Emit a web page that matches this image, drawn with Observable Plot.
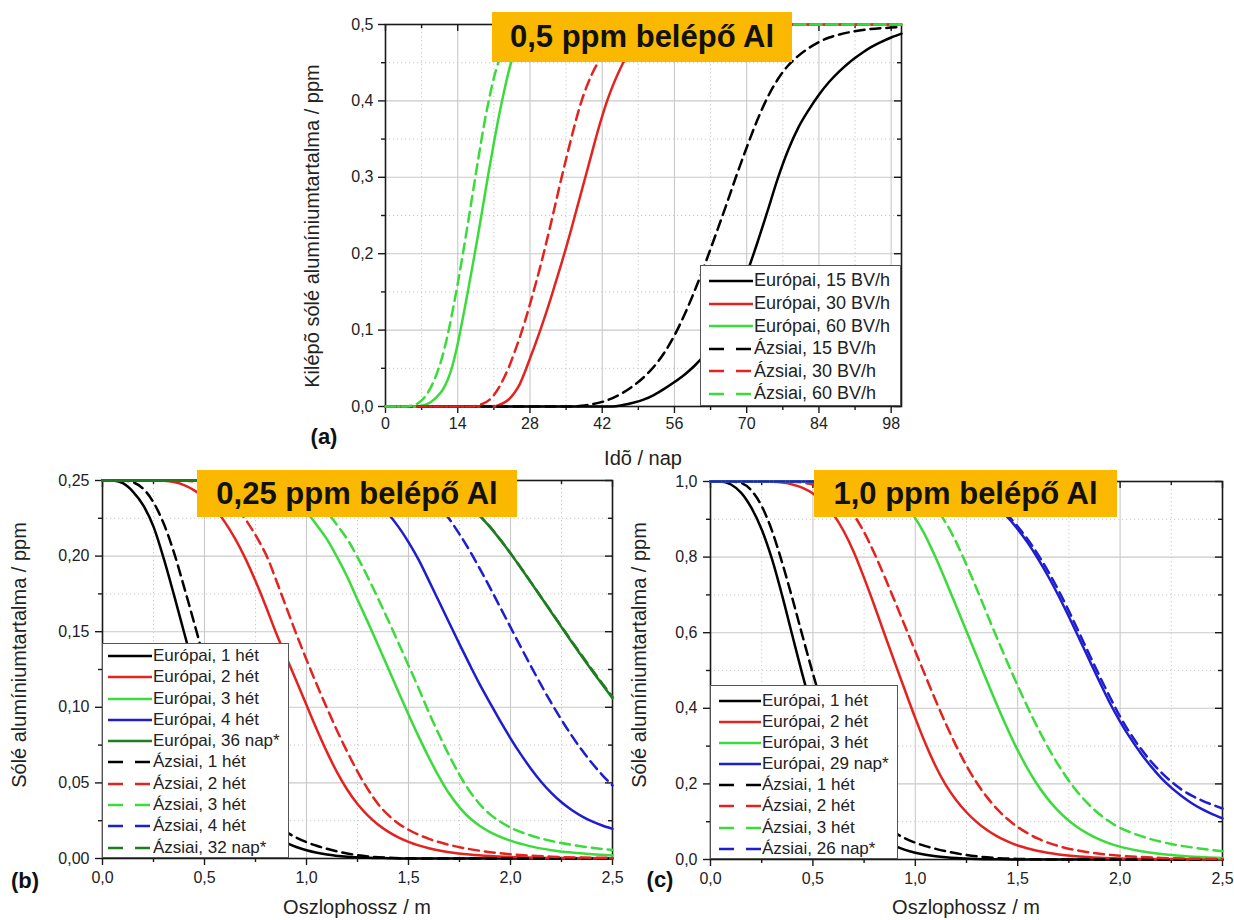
<!DOCTYPE html>
<html><head><meta charset="utf-8">
<script src="https://cdn.jsdelivr.net/npm/d3@7"></script>
<script src="https://cdn.jsdelivr.net/npm/@observablehq/plot@0.6"></script>
<style>
body{margin:0;background:#fff;}
#root{position:relative;width:1234px;height:920px;overflow:hidden;font-family:"Liberation Sans",Arial,sans-serif;background:#fff;}
.panel{position:absolute;}
.panel svg{overflow:visible;}
.title{position:absolute;background:#FAB800;font-weight:bold;display:flex;align-items:center;justify-content:center;color:#111;white-space:nowrap;}
.legend{position:absolute;background:#fff;border:1px solid #555;box-sizing:border-box;}
.row{position:absolute;left:0;display:flex;align-items:center;white-space:nowrap;color:#222;}
.lab{position:absolute;white-space:nowrap;color:#222;transform:translate(-50%,-50%);}
.ylab{position:absolute;white-space:nowrap;color:#222;transform:translate(-50%,-50%) rotate(-90deg);}
</style>
</head><body><div id="root"></div>
<script>
// ---------- Panel (a): Idő / nap vs kilépő sólé Al (ppm) ----------
const A_LABELS = ["Európai, 15 BV/h","Európai, 30 BV/h","Európai, 60 BV/h","Ázsiai, 15 BV/h","Ázsiai, 30 BV/h","Ázsiai, 60 BV/h"];
const A_EUR_15 = [[0,0],[44,0],[46,0.002],[48,0.005],[50,0.009],[52,0.015],[54,0.023],[56,0.032],[58,0.042],[60,0.054],[62,0.069],[64,0.088],[66,0.112],[68,0.14],[70,0.174],[72,0.213],[74,0.255],[76,0.298],[78,0.335],[80,0.365],[82,0.388],[84,0.408],[86,0.425],[88,0.439],[90,0.451],[92,0.461],[94,0.47],[96,0.477],[98,0.483],[100,0.488]];
const A_EUR_30 = [[0,0],[21,0],[22,0.002],[23,0.005],[24,0.01],[25,0.018],[26,0.029],[27,0.045],[28,0.063],[29,0.081],[30,0.1],[31,0.12],[32,0.141],[33,0.163],[34,0.185],[35,0.208],[36,0.232],[37,0.257],[38,0.282],[39,0.307],[40,0.332],[41,0.357],[42,0.38],[43,0.401],[44,0.419],[45,0.435],[46,0.449],[47,0.461],[48,0.471],[49,0.479],[50,0.486],[51,0.491],[52,0.495],[53,0.498],[54,0.5],[100,0.5]];
const A_EUR_60 = [[0,0],[6,0],[7,0.001],[8,0.003],[9,0.007],[10,0.013],[11,0.021],[12,0.034],[13,0.054],[14,0.082],[15,0.116],[16,0.152],[17,0.189],[18,0.227],[19,0.267],[20,0.307],[21,0.345],[22,0.381],[23,0.413],[24,0.442],[25,0.465],[26,0.482],[27,0.492],[28,0.497],[29,0.5],[100,0.5]];
const A_ASIA_15 = [[0,0],[36,0],[38,0.001],[40,0.003],[42,0.006],[44,0.011],[46,0.018],[48,0.027],[50,0.038],[52,0.052],[54,0.07],[56,0.093],[58,0.121],[60,0.153],[62,0.188],[64,0.225],[66,0.263],[68,0.302],[70,0.339],[72,0.374],[74,0.404],[76,0.428],[78,0.446],[80,0.459],[82,0.469],[84,0.477],[86,0.483],[88,0.487],[90,0.49],[94,0.494],[98,0.496],[100,0.497]];
const A_ASIA_30 = [[0,0],[17,0],[18,0.002],[19,0.004],[20,0.008],[21,0.015],[22,0.025],[23,0.038],[24,0.053],[25,0.071],[26,0.09],[27,0.111],[28,0.134],[29,0.158],[30,0.183],[31,0.21],[32,0.238],[33,0.267],[34,0.296],[35,0.324],[36,0.351],[37,0.377],[38,0.4],[39,0.419],[40,0.435],[41,0.448],[42,0.459],[43,0.469],[44,0.477],[45,0.484],[46,0.49],[47,0.495],[48,0.498],[49,0.5],[100,0.5]];
const A_ASIA_60 = [[0,0],[4,0],[5,0.001],[6,0.003],[7,0.008],[8,0.016],[9,0.028],[10,0.044],[11,0.065],[12,0.092],[13,0.125],[14,0.161],[15,0.2],[16,0.241],[17,0.283],[18,0.325],[19,0.365],[20,0.4],[21,0.43],[22,0.453],[23,0.471],[24,0.484],[25,0.493],[26,0.498],[27,0.5],[100,0.5]];
const A_XTICKS = [0,14,28,42,56,70,84,98];
const A_XTICK_LABELS = ["0","14","28","42","56","70","84","98"];
const A_XMINOR = [7,21,35,49,63,77,91];
const A_YTICKS = [0,0.1,0.2,0.3,0.4,0.5];
const A_YTICK_LABELS = ["0,0","0,1","0,2","0,3","0,4","0,5"];
const A_YMINOR = [0.05,0.15,0.25,0.35,0.45];

// ---------- Panel (b): 0,25 ppm ----------
const B_LABELS = ["Európai, 1 hét","Európai, 2 hét","Európai, 3 hét","Európai, 4 hét","Európai, 36 nap*","Ázsiai, 1 hét","Ázsiai, 2 hét","Ázsiai, 3 hét","Ázsiai, 4 hét","Ázsiai, 32 nap*"];
const B_EUR_1 = [[0,0.25],[0.05,0.25],[0.1,0.2482],[0.15,0.2425],[0.2,0.2335],[0.25,0.2195],[0.3,0.1985],[0.35,0.1745],[0.4,0.1495],[0.45,0.1245],[0.5,0.101],[0.55,0.08],[0.6,0.0622],[0.65,0.0475],[0.7,0.0358],[0.75,0.0268],[0.8,0.0198],[0.85,0.0145],[0.9,0.0105],[0.95,0.0076],[1.0,0.0055],[1.1,0.0027],[1.2,0.0012],[1.3,0.0005],[1.4,0.0002],[1.5,0],[2.5,0]];
const B_EUR_2 = [[0,0.25],[0.25,0.25],[0.3,0.2498],[0.35,0.249],[0.4,0.247],[0.45,0.2435],[0.5,0.2385],[0.55,0.2315],[0.6,0.2225],[0.65,0.2115],[0.7,0.1985],[0.75,0.1835],[0.8,0.167],[0.85,0.1495],[0.9,0.1335],[0.95,0.1175],[1.0,0.1015],[1.05,0.0855],[1.1,0.0705],[1.15,0.057],[1.2,0.0455],[1.25,0.036],[1.3,0.0285],[1.35,0.0225],[1.4,0.0178],[1.45,0.014],[1.5,0.011],[1.6,0.0068],[1.7,0.0042],[1.8,0.0026],[1.9,0.0016],[2.0,0.001],[2.2,0.0004],[2.5,0.0001]];
const B_EUR_3 = [[0,0.25],[0.6,0.25],[0.7,0.2496],[0.75,0.249],[0.8,0.2478],[0.85,0.2455],[0.9,0.2418],[0.95,0.2365],[1.0,0.2293],[1.05,0.2205],[1.1,0.2112],[1.15,0.1993],[1.2,0.1862],[1.25,0.1712],[1.3,0.1565],[1.35,0.1413],[1.4,0.126],[1.45,0.1105],[1.5,0.0953],[1.55,0.0806],[1.6,0.0667],[1.65,0.054],[1.7,0.0428],[1.75,0.0338],[1.8,0.0268],[1.85,0.0215],[1.9,0.0175],[2.0,0.0118],[2.1,0.008],[2.2,0.0055],[2.3,0.0039],[2.4,0.0028],[2.5,0.002]];
const B_EUR_4 = [[0,0.25],[1.0,0.25],[1.05,0.2497],[1.1,0.2492],[1.15,0.2482],[1.2,0.2465],[1.25,0.2438],[1.3,0.24],[1.35,0.2348],[1.4,0.228],[1.45,0.2195],[1.5,0.2093],[1.55,0.1975],[1.6,0.1838],[1.65,0.1698],[1.7,0.1558],[1.75,0.1418],[1.8,0.1282],[1.85,0.115],[1.9,0.1028],[1.95,0.0908],[2.0,0.0795],[2.05,0.069],[2.1,0.0594],[2.15,0.0508],[2.2,0.0434],[2.25,0.0372],[2.3,0.0321],[2.35,0.0279],[2.4,0.0245],[2.45,0.0218],[2.5,0.0196]];
const B_EUR_36 = [[0,0.25],[1.4,0.25],[1.45,0.2499],[1.5,0.2495],[1.55,0.2488],[1.6,0.2475],[1.65,0.2453],[1.7,0.2422],[1.75,0.238],[1.8,0.2328],[1.85,0.2265],[1.9,0.2192],[1.95,0.2108],[2.0,0.2018],[2.05,0.1923],[2.1,0.1826],[2.15,0.1728],[2.2,0.1629],[2.25,0.153],[2.3,0.1432],[2.35,0.1336],[2.4,0.1242],[2.45,0.115],[2.5,0.106]];
const B_ASIA_1 = [[0,0.25],[0.1,0.25],[0.15,0.2488],[0.2,0.2445],[0.25,0.2355],[0.3,0.2215],[0.35,0.2025],[0.4,0.1795],[0.45,0.1555],[0.5,0.131],[0.55,0.1075],[0.6,0.086],[0.65,0.0672],[0.7,0.0515],[0.75,0.0392],[0.8,0.0298],[0.85,0.0228],[0.9,0.0176],[0.95,0.0138],[1.0,0.0108],[1.05,0.0084],[1.1,0.0064],[1.15,0.0047],[1.2,0.0033],[1.3,0.0014],[1.4,0.0005],[1.5,0.0001],[1.6,0],[2.5,0]];
const B_ASIA_2 = [[0,0.25],[0.35,0.25],[0.41,0.2498],[0.46,0.249],[0.51,0.247],[0.56,0.2435],[0.61,0.2385],[0.66,0.2315],[0.71,0.2225],[0.76,0.2115],[0.81,0.1985],[0.85,0.1845],[0.9,0.1665],[0.95,0.1485],[1.0,0.1315],[1.05,0.1152],[1.1,0.0995],[1.15,0.0845],[1.2,0.0705],[1.25,0.0575],[1.3,0.046],[1.35,0.0362],[1.4,0.0288],[1.45,0.0232],[1.5,0.019],[1.6,0.013],[1.7,0.009],[1.8,0.0062],[1.9,0.0042],[2.0,0.0028],[2.2,0.0012],[2.5,0.0004]];
const B_ASIA_3 = [[0,0.25],[0.75,0.25],[0.8,0.2496],[0.85,0.249],[0.9,0.2478],[0.95,0.2455],[1.0,0.2418],[1.05,0.2365],[1.1,0.2293],[1.15,0.2205],[1.2,0.2112],[1.25,0.1993],[1.3,0.1862],[1.35,0.1722],[1.4,0.1577],[1.45,0.1428],[1.5,0.1277],[1.55,0.1125],[1.6,0.0965],[1.65,0.0818],[1.7,0.068],[1.75,0.0553],[1.8,0.0445],[1.85,0.0358],[1.9,0.0292],[1.95,0.0243],[2.0,0.0205],[2.1,0.0152],[2.2,0.0116],[2.3,0.009],[2.4,0.0071],[2.5,0.0056]];
const B_ASIA_4 = [[0,0.25],[1.3,0.25],[1.35,0.2497],[1.4,0.249],[1.45,0.2478],[1.5,0.2458],[1.55,0.2428],[1.6,0.2385],[1.65,0.2325],[1.7,0.2245],[1.75,0.2145],[1.8,0.2035],[1.85,0.1915],[1.9,0.179],[1.95,0.166],[2.0,0.153],[2.05,0.14],[2.1,0.1272],[2.15,0.1148],[2.2,0.1029],[2.25,0.0917],[2.3,0.0813],[2.35,0.0717],[2.4,0.063],[2.45,0.0552],[2.5,0.0483]];
const B_ASIA_32 = [[0,0.25],[1.45,0.25],[1.5,0.2497],[1.55,0.249],[1.6,0.2478],[1.65,0.2457],[1.7,0.2426],[1.75,0.2384],[1.8,0.2331],[1.85,0.2267],[1.9,0.2193],[1.95,0.2109],[2.0,0.2019],[2.05,0.1925],[2.1,0.1828],[2.15,0.173],[2.2,0.1632],[2.25,0.1534],[2.3,0.1437],[2.35,0.1342],[2.4,0.1249],[2.45,0.1158],[2.5,0.107]];
const B_XTICKS = [0,0.5,1,1.5,2,2.5];
const B_XTICK_LABELS = ["0,0","0,5","1,0","1,5","2,0","2,5"];
const B_XMINOR = [0.25,0.75,1.25,1.75,2.25];
const B_YTICKS = [0,0.05,0.1,0.15,0.2,0.25];
const B_YTICK_LABELS = ["0,00","0,05","0,10","0,15","0,20","0,25"];
const B_YMINOR = [0.025,0.075,0.125,0.175,0.225];

// ---------- Panel (c): 1,0 ppm ----------
const C_LABELS = ["Európai, 1 hét","Európai, 2 hét","Európai, 3 hét","Európai, 29 nap*","Ázsiai, 1 hét","Ázsiai, 2 hét","Ázsiai, 3 hét","Ázsiai, 26 nap*"];
const C_EUR_1 = [[0,1],[0.05,1],[0.1,0.992],[0.15,0.97],[0.2,0.93],[0.25,0.873],[0.3,0.795],[0.35,0.698],[0.4,0.592],[0.45,0.487],[0.5,0.39],[0.55,0.305],[0.6,0.234],[0.65,0.177],[0.7,0.131],[0.75,0.096],[0.8,0.07],[0.85,0.05],[0.9,0.036],[0.95,0.0255],[1.0,0.018],[1.05,0.0125],[1.1,0.0085],[1.15,0.0057],[1.2,0.0037],[1.3,0.0015],[1.4,0.0005],[1.5,0],[2.5,0]];
const C_EUR_2 = [[0,1],[0.25,1],[0.3,0.9993],[0.35,0.997],[0.4,0.992],[0.45,0.983],[0.5,0.968],[0.55,0.945],[0.6,0.913],[0.65,0.869],[0.7,0.813],[0.75,0.745],[0.8,0.672],[0.85,0.596],[0.9,0.521],[0.95,0.447],[1.0,0.374],[1.05,0.306],[1.1,0.246],[1.15,0.196],[1.2,0.157],[1.25,0.125],[1.3,0.099],[1.35,0.078],[1.4,0.061],[1.45,0.048],[1.5,0.037],[1.55,0.029],[1.6,0.0225],[1.7,0.0135],[1.8,0.008],[1.9,0.0048],[2.0,0.0029],[2.2,0.001],[2.5,0.0002]];
const C_EUR_3 = [[0,1],[0.64,1],[0.69,0.9993],[0.74,0.997],[0.79,0.992],[0.84,0.983],[0.89,0.968],[0.94,0.944],[0.99,0.911],[1.04,0.866],[1.09,0.81],[1.14,0.748],[1.19,0.683],[1.24,0.617],[1.29,0.551],[1.34,0.485],[1.39,0.42],[1.44,0.358],[1.49,0.3],[1.54,0.248],[1.59,0.203],[1.64,0.165],[1.69,0.133],[1.74,0.107],[1.79,0.086],[1.84,0.069],[1.89,0.055],[1.94,0.044],[1.99,0.0355],[2.09,0.0232],[2.19,0.0152],[2.29,0.0099],[2.39,0.0065],[2.5,0.0041]];
const C_EUR_29 = [[0,1],[0.9,1],[1.0,0.9995],[1.1,0.997],[1.2,0.99],[1.25,0.982],[1.3,0.97],[1.35,0.953],[1.4,0.93],[1.45,0.906],[1.5,0.874],[1.55,0.837],[1.6,0.795],[1.65,0.748],[1.7,0.697],[1.75,0.642],[1.8,0.585],[1.85,0.527],[1.9,0.47],[1.95,0.414],[2.0,0.365],[2.05,0.321],[2.1,0.282],[2.15,0.247],[2.2,0.216],[2.25,0.19],[2.3,0.168],[2.35,0.149],[2.4,0.133],[2.45,0.12],[2.5,0.109]];
const C_ASIA_1 = [[0,1],[0.1,1],[0.15,0.996],[0.2,0.976],[0.25,0.935],[0.3,0.87],[0.35,0.785],[0.4,0.69],[0.45,0.59],[0.5,0.492],[0.55,0.4],[0.6,0.318],[0.65,0.25],[0.7,0.195],[0.75,0.151],[0.8,0.117],[0.85,0.091],[0.9,0.071],[0.95,0.056],[1.0,0.0445],[1.05,0.0355],[1.1,0.0282],[1.15,0.0218],[1.2,0.0163],[1.25,0.0118],[1.3,0.0083],[1.35,0.0057],[1.4,0.0038],[1.5,0.0015],[1.6,0.0004],[1.7,0],[2.5,0]];
const C_ASIA_2 = [[0,1],[0.35,1],[0.4,0.9993],[0.45,0.997],[0.5,0.992],[0.55,0.983],[0.6,0.968],[0.65,0.944],[0.7,0.911],[0.75,0.866],[0.8,0.81],[0.85,0.748],[0.9,0.683],[0.95,0.617],[1.0,0.551],[1.05,0.485],[1.1,0.42],[1.15,0.358],[1.2,0.3],[1.25,0.248],[1.3,0.203],[1.35,0.165],[1.4,0.133],[1.45,0.107],[1.5,0.086],[1.55,0.069],[1.6,0.055],[1.65,0.044],[1.7,0.0355],[1.8,0.0232],[1.9,0.0152],[2.0,0.0099],[2.1,0.0065],[2.2,0.0042],[2.35,0.0022],[2.5,0.0011]];
const C_ASIA_3 = [[0,1],[0.775,1],[0.825,0.9993],[0.875,0.997],[0.925,0.992],[0.975,0.983],[1.025,0.968],[1.075,0.944],[1.125,0.911],[1.175,0.866],[1.225,0.81],[1.275,0.748],[1.325,0.683],[1.375,0.617],[1.425,0.553],[1.475,0.49],[1.525,0.43],[1.575,0.373],[1.625,0.32],[1.675,0.271],[1.725,0.228],[1.775,0.19],[1.825,0.158],[1.875,0.131],[1.925,0.109],[1.975,0.091],[2.05,0.072],[2.15,0.054],[2.25,0.041],[2.35,0.032],[2.45,0.025],[2.5,0.022]];
const C_ASIA_26 = [[0,1],[0.95,1],[1.05,0.9995],[1.15,0.997],[1.25,0.985],[1.3,0.973],[1.35,0.957],[1.4,0.936],[1.45,0.911],[1.5,0.881],[1.55,0.846],[1.6,0.806],[1.65,0.761],[1.7,0.711],[1.75,0.657],[1.8,0.6],[1.85,0.542],[1.9,0.485],[1.95,0.43],[2.0,0.378],[2.05,0.333],[2.1,0.294],[2.15,0.26],[2.2,0.231],[2.25,0.206],[2.3,0.185],[2.35,0.169],[2.4,0.156],[2.45,0.145],[2.5,0.135]];
const C_XTICKS = [0,0.5,1,1.5,2,2.5];
const C_XTICK_LABELS = ["0,0","0,5","1,0","1,5","2,0","2,5"];
const C_XMINOR = [0.25,0.75,1.25,1.75,2.25];
const C_YTICKS = [0,0.2,0.4,0.6,0.8,1.0];
const C_YTICK_LABELS = ["0,0","0,2","0,4","0,6","0,8","1,0"];
const C_YMINOR = [0.1,0.3,0.5,0.7,0.9];

// ---------- styling ----------
const BLACK = "#000000", RED = "#E2231F", GREEN = "#3CDB3C", BLUE = "#1E1ECF", DKGREEN = "#1E7D1E";
const FONT = "'Liberation Sans', Arial, sans-serif";
const root = document.getElementById("root");

function buildPanel(cfg) {
  const {left, top, width, height, mt, mr, mb, ml, xDomain, yDomain,
         xTicks, xLabels, xMinor, yTicks, yLabels, yMinor, series, xPad, yPad} = cfg;
  const fw = width - ml - mr, fh = height - mt - mb;
  const inX = v => v > xDomain[0] + 1e-9 && v < xDomain[1] - 1e-9;
  const inY = v => v > yDomain[0] + 1e-9 && v < yDomain[1] - 1e-9;
  const xm = xMinor.filter(v => v >= xDomain[0] && v <= xDomain[1]);
  const ym = yMinor.filter(v => v >= yDomain[0] && v <= yDomain[1]);
  const tk = {stroke: "#1a1a1a", strokeWidth: 1.4};
  const marks = [
    Plot.ruleX(xm.filter(inX), {x: d => d, stroke: "#c4c4c4", strokeWidth: 0.9, strokeDasharray: "1.2,2.8"}),
    Plot.ruleY(ym.filter(inY), {y: d => d, stroke: "#c4c4c4", strokeWidth: 0.9, strokeDasharray: "1.2,2.8"}),
    Plot.ruleX(xTicks.filter(inX), {x: d => d, stroke: "#c9c9c9", strokeWidth: 1.1}),
    Plot.ruleY(yTicks.filter(inY), {y: d => d, stroke: "#c9c9c9", strokeWidth: 1.1}),
    Plot.frame({stroke: "#1a1a1a", strokeWidth: 1.6}),
    Plot.tickX(xTicks, {x: d => d, ...tk, insetTop: fh, insetBottom: -7}),
    Plot.tickX(xm, {x: d => d, ...tk, insetTop: fh, insetBottom: -4}),
    Plot.tickX(xTicks, {x: d => d, ...tk, insetTop: 0, insetBottom: fh - 7}),
    Plot.tickX(xm, {x: d => d, ...tk, insetTop: 0, insetBottom: fh - 4}),
    Plot.tickY(yTicks, {y: d => d, ...tk, insetLeft: -7, insetRight: fw}),
    Plot.tickY(ym, {y: d => d, ...tk, insetLeft: -4, insetRight: fw}),
    Plot.tickY(yTicks, {y: d => d, ...tk, insetLeft: fw - 7, insetRight: 0}),
    Plot.tickY(ym, {y: d => d, ...tk, insetLeft: fw - 4, insetRight: 0}),
    Plot.axisX(xTicks, {tickSize: 0, tickPadding: xPad, fontSize: 16, label: null,
      tickFormat: d => xLabels[xTicks.indexOf(d)]}),
    Plot.axisY(yTicks, {tickSize: 0, tickPadding: yPad, fontSize: 16, label: null,
      tickFormat: d => yLabels[yTicks.indexOf(d)]})
  ];
  for (const s of series) {
    marks.push(Plot.line(s.data, {x: d => d[0], y: d => d[1], stroke: s.color, strokeWidth: 2.5,
      strokeDasharray: s.dash ? "10,6" : undefined, curve: "monotone-x"}));
  }
  const svg = Plot.plot({
    width, height, marginTop: mt, marginRight: mr, marginBottom: mb, marginLeft: ml,
    x: {domain: xDomain}, y: {domain: yDomain},
    style: {fontFamily: FONT, fontSize: "16px", color: "#222", background: "transparent", overflow: "visible"},
    marks
  });
  const div = document.createElement("div");
  div.className = "panel";
  div.style.left = left + "px"; div.style.top = top + "px";
  div.appendChild(svg);
  root.appendChild(div);
}

function addTitle(text, left, top, w, h, fs) {
  const d = document.createElement("div");
  d.className = "title";
  Object.assign(d.style, {left: left + "px", top: top + "px", width: w + "px", height: h + "px", fontSize: fs + "px"});
  d.textContent = text;
  root.appendChild(d);
}
function addLabel(text, cx, cy, fs, rotate, bold) {
  const d = document.createElement("div");
  d.className = rotate ? "ylab" : "lab";
  Object.assign(d.style, {left: cx + "px", top: cy + "px", fontSize: fs + "px"});
  if (bold) { d.style.fontWeight = "bold"; d.style.color = "#111"; }
  d.textContent = text;
  root.appendChild(d);
}
function addLegend(series, left, top, w, h, first, step, swX, swW, fs) {
  const box = document.createElement("div");
  box.className = "legend";
  Object.assign(box.style, {left: left + "px", top: top + "px", width: w + "px", height: h + "px"});
  series.forEach((s, i) => {
    const r = document.createElement("div");
    r.className = "row";
    Object.assign(r.style, {top: (first + i * step - step / 2) + "px", height: step + "px", paddingLeft: swX + "px", fontSize: fs + "px"});
    const ns = "http://www.w3.org/2000/svg";
    const sv = document.createElementNS(ns, "svg");
    sv.setAttribute("width", swW); sv.setAttribute("height", 6);
    sv.style.marginRight = "1px";
    const ln = document.createElementNS(ns, "line");
    ln.setAttribute("x1", 0); ln.setAttribute("x2", swW); ln.setAttribute("y1", 3); ln.setAttribute("y2", 3);
    ln.setAttribute("stroke", s.color); ln.setAttribute("stroke-width", 2.5);
    if (s.dash) ln.setAttribute("stroke-dasharray", "15,12");
    sv.appendChild(ln);
    const t = document.createElement("span");
    t.textContent = s.label;
    r.appendChild(sv); r.appendChild(t);
    box.appendChild(r);
  });
  root.appendChild(box);
}

// ---------- series lists ----------
const aSeries = [
  {data: A_EUR_15, color: BLACK, dash: false}, {data: A_EUR_30, color: RED, dash: false}, {data: A_EUR_60, color: GREEN, dash: false},
  {data: A_ASIA_15, color: BLACK, dash: true}, {data: A_ASIA_30, color: RED, dash: true}, {data: A_ASIA_60, color: GREEN, dash: true}
].map((s, i) => ({...s, label: A_LABELS[i]}));
const bSeries = [
  {data: B_EUR_1, color: BLACK, dash: false}, {data: B_EUR_2, color: RED, dash: false}, {data: B_EUR_3, color: GREEN, dash: false},
  {data: B_EUR_4, color: BLUE, dash: false}, {data: B_EUR_36, color: DKGREEN, dash: false},
  {data: B_ASIA_1, color: BLACK, dash: true}, {data: B_ASIA_2, color: RED, dash: true}, {data: B_ASIA_3, color: GREEN, dash: true},
  {data: B_ASIA_4, color: BLUE, dash: true}, {data: B_ASIA_32, color: DKGREEN, dash: true}
].map((s, i) => ({...s, label: B_LABELS[i]}));
const cSeries = [
  {data: C_EUR_1, color: BLACK, dash: false}, {data: C_EUR_2, color: RED, dash: false}, {data: C_EUR_3, color: GREEN, dash: false},
  {data: C_EUR_29, color: BLUE, dash: false},
  {data: C_ASIA_1, color: BLACK, dash: true}, {data: C_ASIA_2, color: RED, dash: true}, {data: C_ASIA_3, color: GREEN, dash: true},
  {data: C_ASIA_26, color: BLUE, dash: true}
].map((s, i) => ({...s, label: C_LABELS[i]}));

// ---------- build ----------
buildPanel({left: 290, top: 0, width: 660, height: 470, mt: 24, mr: 49, mb: 64, ml: 95,
  xDomain: [0, 100], yDomain: [0, 0.5], xTicks: A_XTICKS, xLabels: A_XTICK_LABELS, xMinor: A_XMINOR,
  yTicks: A_YTICKS, yLabels: A_YTICK_LABELS, yMinor: A_YMINOR, series: aSeries, xPad: 11, yPad: 12});
buildPanel({left: 0, top: 470, width: 620, height: 450, mt: 10, mr: 8, mb: 62, ml: 102,
  xDomain: [0, 2.5], yDomain: [0, 0.25], xTicks: B_XTICKS, xLabels: B_XTICK_LABELS, xMinor: B_XMINOR,
  yTicks: B_YTICKS, yLabels: B_YTICK_LABELS, yMinor: B_YMINOR, series: bSeries, xPad: 13, yPad: 13});
buildPanel({left: 620, top: 470, width: 614, height: 450, mt: 11, mr: 12, mb: 61, ml: 90,
  xDomain: [0, 2.5], yDomain: [0, 1.0], xTicks: C_XTICKS, xLabels: C_XTICK_LABELS, xMinor: C_XMINOR,
  yTicks: C_YTICKS, yLabels: C_YTICK_LABELS, yMinor: C_YMINOR, series: cSeries, xPad: 13, yPad: 13});

addLegend(aSeries, 700, 265, 201, 141, 15, 22.6, 8, 44, 18);
addLegend(bSeries, 102, 643, 187, 215, 12, 21.3, 5, 44, 17);
addLegend(cSeries, 710, 685, 188, 174, 15, 21.1, 8, 42, 17);

addTitle("0,5 ppm belépő Al", 492, 12, 300, 50, 31);
addTitle("0,25 ppm belépő Al", 197, 470, 320, 47, 31);
addTitle("1,0 ppm belépő Al", 814, 470, 303, 47, 31);

addLabel("Idõ / nap", 643, 458, 20, false);
addLabel("Oszlophossz / m", 357, 907, 20, false);
addLabel("Oszlophossz / m", 966, 907, 20, false);
addLabel("Kilépõ sólé alumíniumtartalma / ppm", 312, 226, 20, true);
addLabel("Sólé alumíniumtartalma / ppm", 19, 655, 20, true);
addLabel("Sólé alumíniumtartalma / ppm", 639, 655, 20, true);
addLabel("(a)", 324, 437, 22, false, true);
addLabel("(b)", 25, 881, 22, false, true);
addLabel("(c)", 660, 880, 22, false, true);
</script></body></html>
